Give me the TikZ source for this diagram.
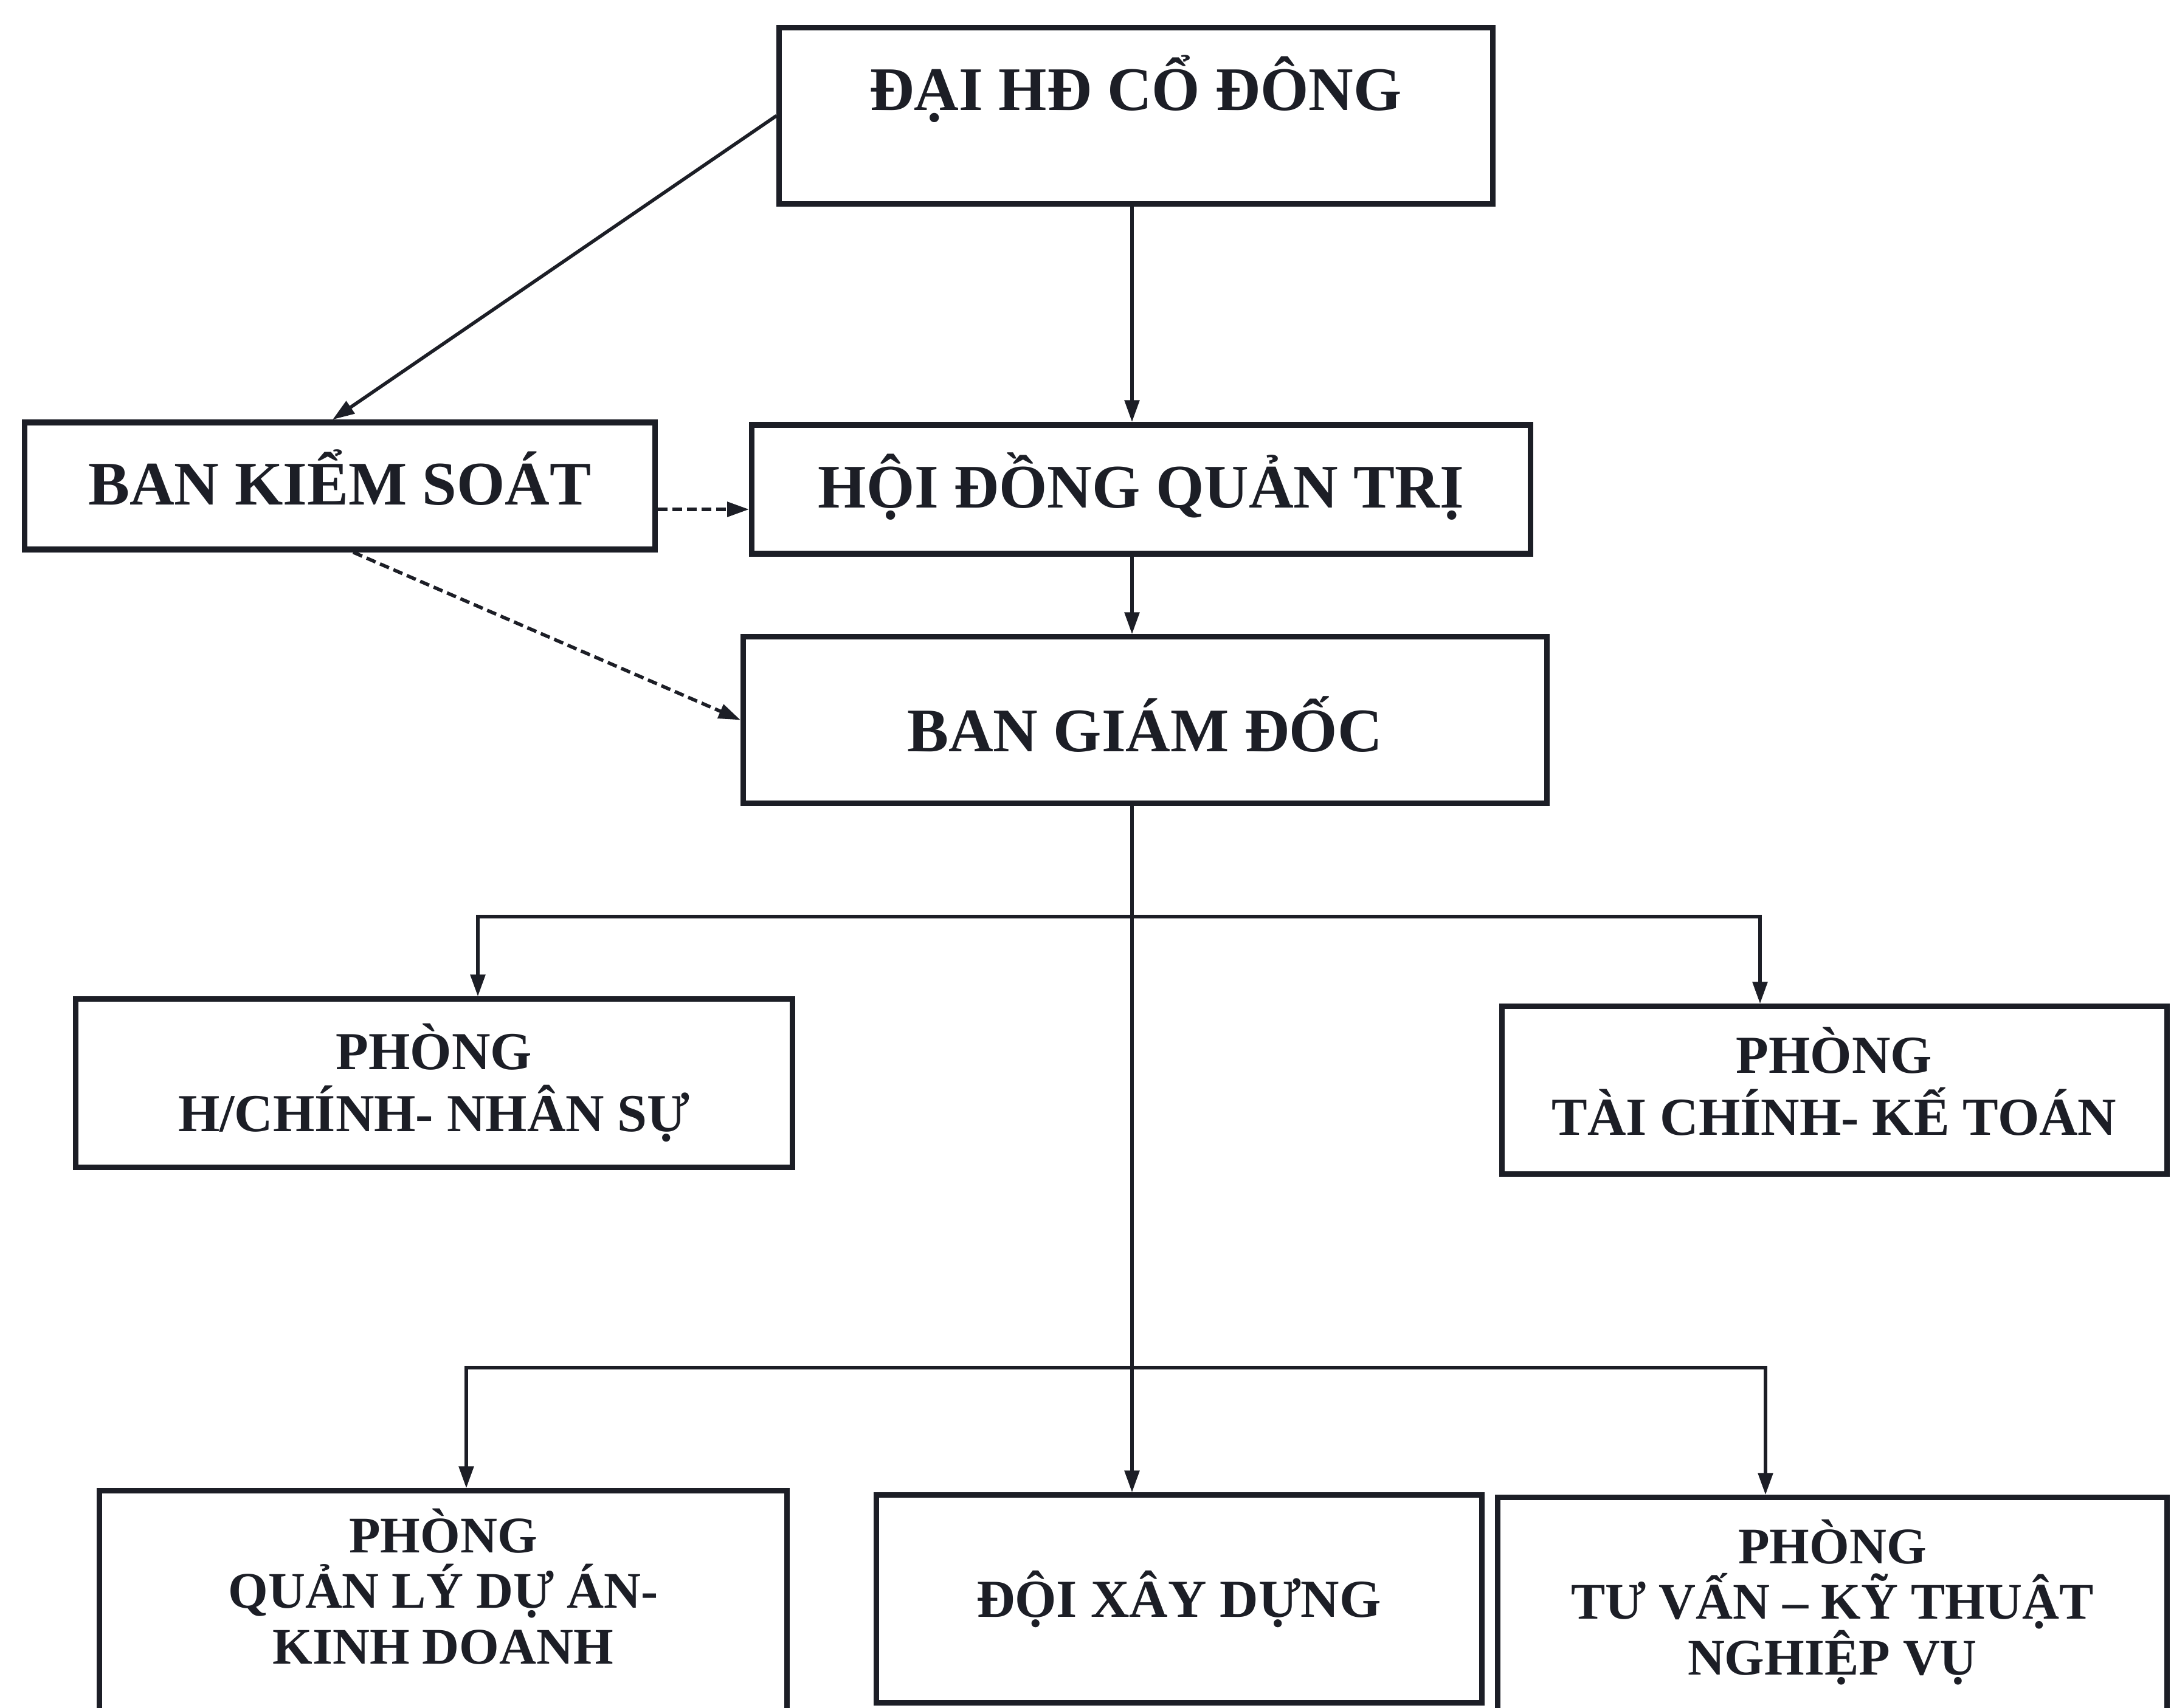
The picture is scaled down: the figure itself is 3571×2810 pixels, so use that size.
\documentclass[tikz,border=0pt]{standalone}
\usepackage{fontspec}
\setmainfont{Liberation Serif}
\usetikzlibrary{arrows.meta,calc}
\definecolor{ink}{RGB}{28,30,38}
\begin{document}
\begin{tikzpicture}[x=0.01cm,y=-0.01cm,
  mytip/.tip={Triangle[length=0.36cm,width=0.24cm]},
  box/.style={draw=ink,line width=2.6pt,inner sep=0pt},
  lbl/.style={text=ink,align=center,inner sep=0pt,anchor=base,font=\bfseries\fontsize{29}{34}\selectfont},
  dlbl/.style={lbl,font=\bfseries\fontsize{25}{29}\selectfont},
  blbl/.style={lbl,font=\bfseries\fontsize{24}{26}\selectfont},
  arr/.style={draw=ink,line width=1.6pt,-mytip},
  arr2/.style={draw=ink,line width=1.6pt,mytip-mytip},
  dsh/.style={arr,dash pattern=on 0.16cm off 0.08cm}]
\useasboundingbox[fill=white] (0,0) rectangle (3571,2810);

% boxes
\node[box,minimum width=11.73cm,minimum height=2.89cm] (dhcd) at (1868.5,190.5) {};
\node[box,minimum width=10.36cm,minimum height=2.09cm] (bks) at (559,799.5) {};
\node[box,minimum width=12.80cm,minimum height=2.12cm] (hdqt) at (1877,805) {};
\node[box,minimum width=13.21cm,minimum height=2.73cm] (bgd) at (1883.5,1184.5) {};
\node[box,minimum width=11.78cm,minimum height=2.76cm] (hcns) at (714,1782) {};
\node[box,minimum width=10.93cm,minimum height=2.75cm] (tckt) at (3017.5,1793.5) {};
\node[box,minimum width=11.30cm,minimum height=3.77cm] (qlda) at (729,2641.5) {};
\node[box,minimum width=9.95cm,minimum height=3.41cm] (dxd) at (1939.5,2630.5) {};
\node[box,minimum width=11.00cm,minimum height=3.66cm] (tvkt) at (3014,2647) {};

% labels (anchor=base is the last line's baseline)
\node[lbl] (dhcd-t) at (1868,182) {ĐẠI HĐ CỔ ĐÔNG};
\node[lbl] (bks-t) at (559,831) {BAN KIỂM SOÁT};
\node[lbl] (hdqt-t) at (1877,836) {HỘI ĐỒNG QUẢN TRỊ};
\node[lbl] (bgd-t) at (1883,1237) {BAN GIÁM ĐỐC};
\node[dlbl] (hcns-t) at (714,1861) {PHÒNG\\H/CHÍNH- NHÂN SỰ};
\node[dlbl] (tckt-t) at (3017,1867) {PHÒNG\\TÀI CHÍNH- KẾ TOÁN};
\node[blbl] (qlda-t) at (729,2737) {PHÒNG\\QUẢN LÝ DỰ ÁN-\\KINH DOANH};
\node[dlbl] (dxd-t) at (1939,2660) {ĐỘI XÂY DỰNG};
\node[blbl] (tvkt-t) at (3014,2755) {PHÒNG\\TƯ VẤN – KỸ THUẬT\\NGHIỆP VỤ};

% connectors
\coordinate (spine) at (1862,0);
\coordinate (dy) at (0,838);
\coordinate (b1l) at (786,1508);
\coordinate (b1r) at (2895,1508);
\coordinate (b2l) at (767,2250);
\coordinate (b2r) at (2904,2250);

\draw[arr] (dhcd.south -| spine) -- (hdqt.north -| spine);
\draw[arr] (hdqt.south -| spine) -- (bgd.north -| spine);
\draw[arr] (bgd.south -| spine) -- (dxd.north -| spine);
\draw[arr2] (hcns.north -| b1l) -- (b1l) -- (b1r) -- (tckt.north -| b1r);
\draw[arr2] (qlda.north -| b2l) -- (b2l) -- (b2r) -- (tvkt.north -| b2r);
\draw[arr] (dhcd.west) -- ([xshift=-0.12cm]bks.north);
\draw[dsh] (bks.east |- dy) -- (hdqt.west |- dy);
\draw[dsh] ([xshift=0.22cm]bks.south) -- (bgd.west);
\end{tikzpicture}
\end{document}
